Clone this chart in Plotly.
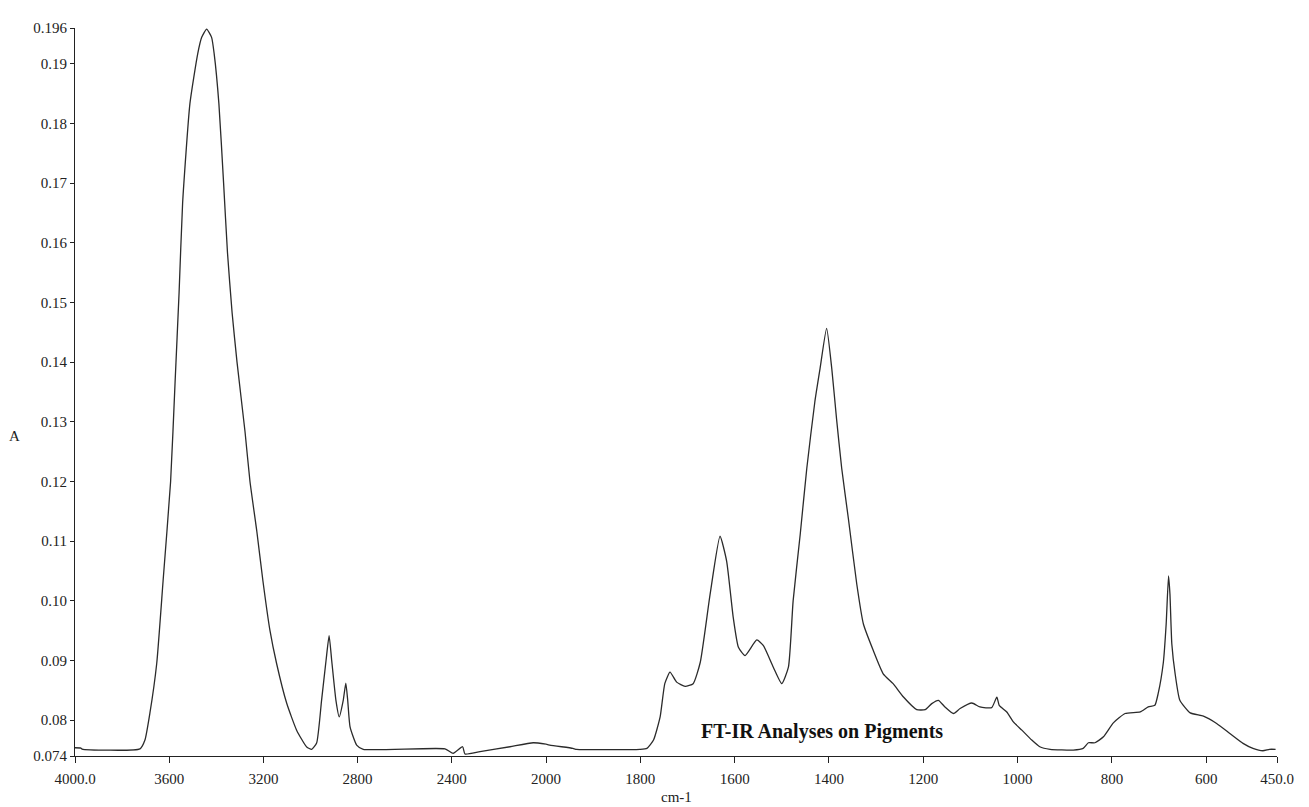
import plotly.graph_objects as go

# Spectrum values (wavenumber in cm-1, absorbance A)
wavenumber = [4000, 3975, 3970, 3724, 3703, 3682, 3653, 3626, 3594, 3575, 3558, 3543, 3512, 3479,
              3462, 3441, 3420, 3409, 3389, 3369, 3352.5, 3333, 3312, 3278, 3257, 3228, 3202, 3172,
              3144, 3101, 3059,
              3016, 2995, 2974, 2953, 2934, 2921, 2910, 2892, 2878, 2861, 2850, 2842, 2832, 2804,
              2776, 2429, 2394, 2354, 2344, 2280, 2153, 2054, 2000,
              1992, 1943, 1935, 1801, 1786, 1772, 1758, 1748, 1737, 1723, 1705, 1688, 1673, 1652,
              1631, 1617, 1603, 1592, 1578, 1553, 1539, 1518, 1500, 1486, 1476, 1461, 1447, 1430,
              1419, 1405, 1394, 1384, 1373, 1359, 1341, 1327, 1306, 1285, 1264, 1242, 1214, 1196,
              1182, 1168, 1154, 1136, 1122, 1097, 1080, 1055, 1044, 1039, 1023, 1009, 991, 970,
              953, 931, 882, 861, 850, 836, 818, 797, 772, 740, 723, 709, 702, 691, 685, 680, 677,
              673, 666, 656, 634, 606, 578, 550, 522, 501, 480, 466, 453]
absorbance = [0.07538, 0.07533, 0.07517, 0.0752, 0.07667, 0.08117, 0.0895, 0.10333, 0.1200, 0.13667,
              0.15167, 0.16667, 0.18333, 0.19167, 0.19443, 0.1958, 0.19443, 0.19167, 0.18333, 0.1700,
              0.15833, 0.14833, 0.1400, 0.12833, 0.1200, 0.11167, 0.10333, 0.0950, 0.0895, 0.08283,
              0.07833, 0.0755, 0.07512,
              0.07617, 0.08333, 0.0900, 0.09417, 0.0900, 0.08333, 0.08055, 0.08333, 0.0862, 0.08333,
              0.07888, 0.07583, 0.07512, 0.0752, 0.07445, 0.07555, 0.07433, 0.07472, 0.07555, 0.07622,
              0.0760,
              0.07583, 0.07528, 0.07512, 0.07512, 0.07528, 0.07667, 0.08055, 0.08617, 0.08805, 0.08638,
              0.08567, 0.08612, 0.08967, 0.10112, 0.11083, 0.10667, 0.09722, 0.09222, 0.09083, 0.09345,
              0.0925, 0.08888, 0.08612, 0.08888, 0.1000, 0.11112, 0.12222, 0.13333, 0.13888, 0.14567,
              0.13888, 0.13055, 0.12222, 0.11388, 0.10278, 0.09612, 0.09167, 0.08778, 0.08612, 0.08388,
              0.08178, 0.08178, 0.08278, 0.08333, 0.08222, 0.08112, 0.08195, 0.08288, 0.08222, 0.0821,
              0.08388, 0.0825, 0.08138, 0.07972, 0.07833, 0.07667, 0.07555, 0.07512, 0.0750, 0.07528,
              0.07622, 0.07622, 0.07722, 0.07955, 0.08112, 0.08138, 0.08222, 0.0825, 0.08445, 0.08967,
              0.09612, 0.10417, 0.10117, 0.09278, 0.08778, 0.08333, 0.08122, 0.08067, 0.07945, 0.07778,
              0.07612, 0.07528, 0.07488, 0.07512, 0.07512]

x_ticks_high = [4000, 3600, 3200, 2800, 2400]
x_labels_high = ["4000.0", "3600", "3200", "2800", "2400"]
x_ticks_low = [2000, 1800, 1600, 1400, 1200, 1000, 800, 600, 450]
x_labels_low = ["2000", "1800", "1600", "1400", "1200", "1000", "800", "600", "450.0"]
y_ticks = [0.074, 0.08, 0.09, 0.10, 0.11, 0.12, 0.13, 0.14, 0.15, 0.16, 0.17, 0.18, 0.19, 0.196]
y_labels = ["0.074", "0.08", "0.09", "0.10", "0.11", "0.12", "0.13", "0.14", "0.15", "0.16",
            "0.17", "0.18", "0.19", "0.196"]

hi = [(w, a) for w, a in zip(wavenumber, absorbance) if w >= 2000]
lo = [(w, a) for w, a in zip(wavenumber, absorbance) if w <= 2000]

line_style = dict(color="#2b2b2b", width=1.3, shape="spline", smoothing=0.5)
fig = go.Figure()
fig.add_trace(go.Scatter(x=[p[0] for p in hi], y=[p[1] for p in hi], mode="lines",
                         line=line_style, xaxis="x", yaxis="y", showlegend=False))
fig.add_trace(go.Scatter(x=[p[0] for p in lo], y=[p[1] for p in lo], mode="lines",
                         line=line_style, xaxis="x2", yaxis="y", showlegend=False))

font = dict(family="Liberation Serif", size=15, color="#222222")
split = 471 / 1202
axis_common = dict(showline=True, linecolor="#222222", linewidth=1, ticks="outside",
                   ticklen=6, tickcolor="#222222", showgrid=False, zeroline=False,
                   tickfont=font, ticklabelstandoff=3)
fig.update_layout(
    width=1301, height=799,
    margin=dict(l=67, r=32, t=16, b=51),
    paper_bgcolor="white", plot_bgcolor="white",
    xaxis=dict(domain=[0, split], range=[4000, 2000], tickmode="array",
               tickvals=x_ticks_high, ticktext=x_labels_high, anchor="y", **axis_common),
    xaxis2=dict(domain=[split, 1], range=[2000, 450], tickmode="array",
                tickvals=x_ticks_low, ticktext=x_labels_low, anchor="y", **axis_common),
    yaxis=dict(range=[0.074, 0.196], tickmode="array", tickvals=y_ticks, ticktext=y_labels,
               anchor="x", showline=True, linecolor="#222222", linewidth=1, ticks="outside",
               ticklen=4, tickcolor="#222222", showgrid=False, zeroline=False, tickfont=font),
    annotations=[
        dict(text="cm-1", xref="paper", yref="paper", x=0.5, y=-0.056, showarrow=False,
             font=font, xanchor="center", yanchor="middle"),
        dict(text="A", xref="paper", yref="paper", x=-0.0507, y=0.44, showarrow=False,
             font=font, xanchor="center", yanchor="middle"),
        dict(text="<b>FT-IR Analyses on Pigments</b>", xref="paper", yref="paper",
             x=(821.5 - 75) / 1202, y=(756 - 731) / 732, showarrow=False,
             font=dict(family="Liberation Serif", size=20, color="#111111"),
             xanchor="center", yanchor="middle"),
    ],
)
fig.write_html("out.html")
